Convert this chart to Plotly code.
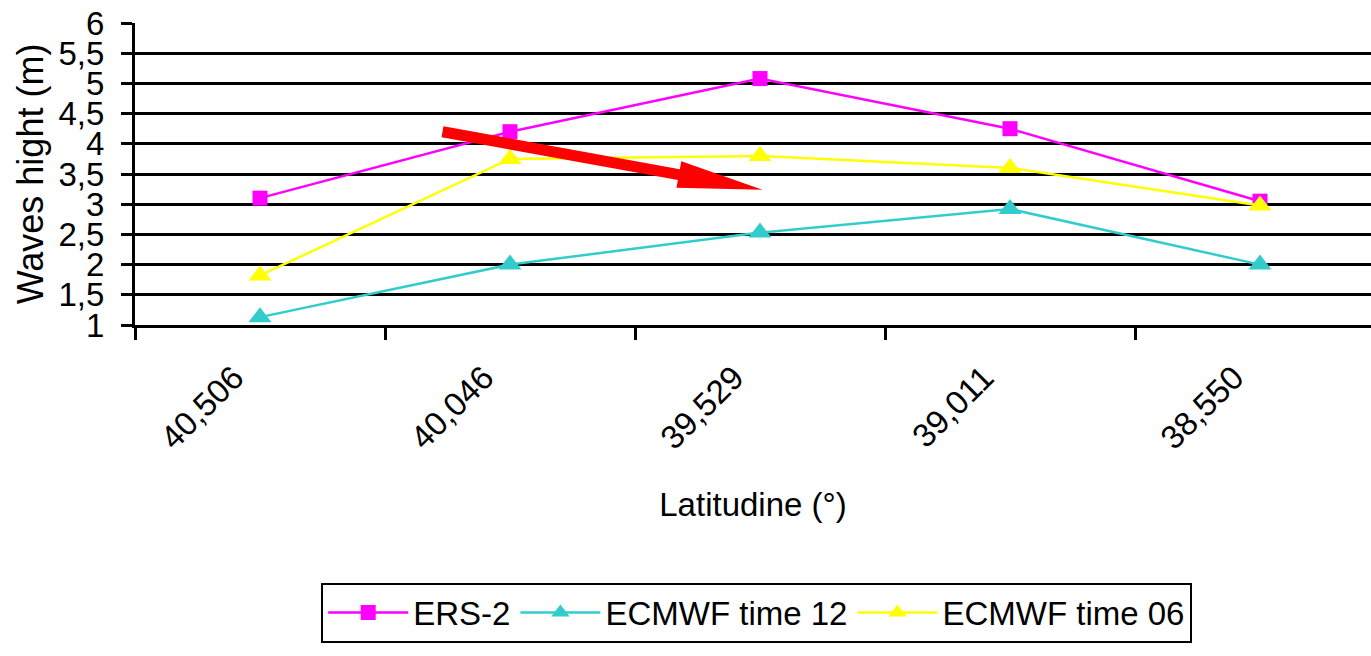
import math
import plotly.graph_objects as go

# Latitude categories (degrees) and wave heights (m)
latitudes = ["40,506", "40,046", "39,529", "39,011", "38,550"]
ers2 = [3.10, 4.20, 5.08, 4.25, 3.05]
ecmwf_12 = [1.13, 2.00, 2.53, 2.92, 2.00]
ecmwf_06 = [1.82, 3.75, 3.80, 3.60, 2.98]

y_ticks = [1, 1.5, 2, 2.5, 3, 3.5, 4, 4.5, 5, 5.5, 6]

# Highlight arrow (category index, wave height)
arrow_tail = (0.73, 4.20)
arrow_tip = (2.01, 3.24)

FONT = "Liberation Sans, Arial, sans-serif"
W, H = 1371, 656
M_L, M_R, M_T, M_B = 135, 0, 23, 331
X_RANGE = [-0.5, -0.5 + (W - M_L - M_R) / 250.0]
Y_RANGE = [1, 6]

fig = go.Figure()

series = [
    ("ERS-2", ers2, "#FF00FF", "square", 15),
    ("ECMWF time 12", ecmwf_12, "#33CCCC", "triangle-up", 20),
    ("ECMWF time 06", ecmwf_06, "#FFFF00", "triangle-up", 20),
]
for name, vals, color, sym, size in series:
    fig.add_trace(go.Scatter(
        x=latitudes, y=vals, name=name, mode="lines+markers",
        line=dict(color=color, width=2.5),
        marker=dict(symbol=sym, size=size, color=color, line=dict(width=0)),
        cliponaxis=False,
    ))

# Red arrow built in pixel space, anchored at its tail
plot_w = W - M_L - M_R
plot_h = H - M_T - M_B
px_x = plot_w / (X_RANGE[1] - X_RANGE[0])
px_y = plot_h / (Y_RANGE[1] - Y_RANGE[0])
dx = (arrow_tip[0] - arrow_tail[0]) * px_x
dy = (arrow_tip[1] - arrow_tail[1]) * px_y
L = math.hypot(dx, dy)
ux, uy = dx / L, dy / L
nx, ny = -uy, ux
shaft, head, head_len = 5.5, 13.5, 85
bx, by = ux * (L - head_len), uy * (L - head_len)
pts = [
    (nx * shaft, ny * shaft),
    (bx + nx * shaft, by + ny * shaft),
    (bx + nx * head, by + ny * head),
    (dx, dy),
    (bx - nx * head, by - ny * head),
    (bx - nx * shaft, by - ny * shaft),
    (-nx * shaft, -ny * shaft),
]
path = "M" + " L".join(f"{px:.2f},{py:.2f}" for px, py in pts) + " Z"
fig.add_shape(
    type="path", path=path, xref="x", yref="y",
    xsizemode="pixel", ysizemode="pixel",
    xanchor=arrow_tail[0], yanchor=arrow_tail[1],
    fillcolor="#FF0000", line=dict(width=0), layer="above",
)

fig.update_layout(
    width=W, height=H,
    margin=dict(l=M_L, r=M_R, t=M_T, b=M_B, pad=0),
    paper_bgcolor="white", plot_bgcolor="white",
    separators=", ",
    font=dict(family=FONT, size=33, color="black"),
    showlegend=True,
    legend=dict(
        orientation="h", x=0.503, xanchor="center", y=-0.853, yanchor="top",
        bordercolor="black", borderwidth=2, bgcolor="white",
        font=dict(family=FONT, size=33, color="black"),
        itemwidth=80, tracegroupgap=0,
    ),
    xaxis=dict(
        type="category", range=X_RANGE, tickson="boundaries",
        showgrid=False, showline=True, linecolor="black", linewidth=3,
        ticks="outside", ticklen=12, tickwidth=2.5, tickcolor="black",
        tickangle=-45, tickfont=dict(family=FONT, size=33),
        ticklabelstandoff=17, ticklabelshift=-26,
        title=dict(text="Latitudine (°)", font=dict(family=FONT, size=33), standoff=38),
        zeroline=False,
    ),
    yaxis=dict(
        range=Y_RANGE, tickvals=y_ticks,
        showgrid=True, gridcolor="black", gridwidth=3,
        showline=True, linecolor="black", linewidth=3,
        ticks="outside", ticklen=11, tickwidth=2.5, tickcolor="black",
        tickfont=dict(family=FONT, size=33), ticklabelstandoff=10,
        title=dict(text="Waves hight (m)", font=dict(family=FONT, size=36), standoff=4),
        zeroline=False,
    ),
)

fig.write_html("out.html")
